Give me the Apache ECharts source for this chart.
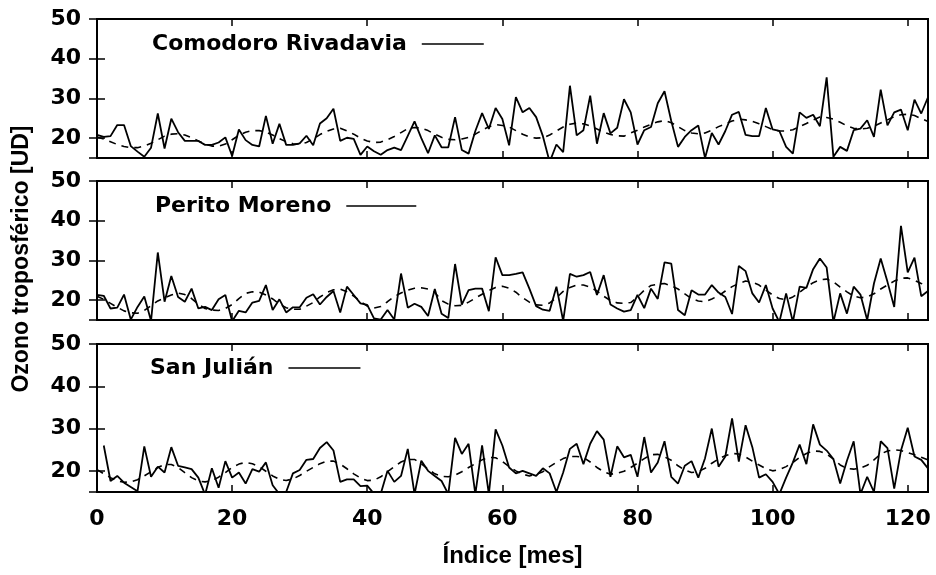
<!DOCTYPE html>
<html>
<head>
<meta charset="utf-8">
<title>Ozono troposférico</title>
<script src="https://cdn.jsdelivr.net/npm/echarts@6.0.0/dist/echarts.min.js"></script>
<style>
    html, body { margin: 0; padding: 0; background: #fff; }
    #main { width: 936px; height: 575px; }
</style>
</head>
<body>
<div id="main"></div>
<script>
// estaciones (una por panel)
var stations = ['Comodoro Rivadavia', 'Perito Moreno', 'San Julián'];

// ozono troposférico mensual [UD], índice de mes 0..123
var comodoro = [20.8, 20.3, 20.5, 23.3, 23.3, 18.0, 16.6, 15.3, 17.6, 26.2, 17.4, 24.9, 21.5, 19.3, 19.3, 19.3, 18.3, 18.3, 18.9, 20.2,
    15.5, 22.2, 19.5, 18.3, 17.9, 25.6, 18.6, 23.6, 18.3, 18.3, 18.7, 20.6, 18.2, 23.7, 25.0, 27.4, 19.3, 20.1, 19.8, 15.8,
    17.9, 16.7, 15.8, 17.0, 17.6, 17.0, 20.6, 24.2, 20.0, 16.2, 20.7, 17.7, 17.7, 25.3, 17.0, 16.1, 21.8, 26.3, 22.3, 27.6,
    24.8, 18.2, 30.3, 26.5, 27.6, 25.3, 20.5, 14.0, 18.4, 16.5, 33.2, 20.7, 22.0, 30.7, 18.6, 26.3, 21.2, 22.6, 29.8, 26.5,
    18.4, 22.0, 22.8, 28.8, 31.8, 24.3, 17.8, 20.3, 22.0, 23.2, 15.0, 21.3, 18.4, 21.8, 25.9, 26.6, 20.8, 20.5, 20.5, 27.6,
    22.2, 21.8, 17.8, 16.1, 26.5, 25.1, 25.9, 23.0, 35.3, 15.3, 17.8, 16.8, 22.0, 22.4, 24.5, 20.3, 32.2, 23.2, 26.5, 27.2,
    22.0, 29.7, 26.2, 30.3];
var comodoroFit = [20.3, 19.8, 19.1, 18.4, 17.9, 17.6, 17.6, 18.0, 18.7, 19.6, 20.5, 21.0, 21.1, 20.8, 20.1, 19.3, 18.5, 18.0, 18.0, 18.5,
    19.6, 20.7, 21.5, 21.9, 21.9, 21.5, 20.8, 19.9, 19.1, 18.6, 18.5, 18.9, 19.8, 20.9, 21.7, 22.3, 22.5, 21.8, 21.0, 20.0,
    19.3, 18.9, 19.0, 19.6, 20.4, 21.4, 22.4, 22.7, 22.5, 21.9, 21.0, 20.2, 19.7, 19.6, 19.8, 20.2, 21.0, 22.0, 22.9, 23.4,
    23.2, 22.8, 21.9, 21.0, 20.3, 20.0, 20.1, 20.8, 21.8, 22.8, 23.5, 23.8, 23.6, 23.1, 22.3, 21.5, 20.9, 20.6, 20.5, 21.3,
    22.0, 22.8, 23.5, 24.1, 24.4, 23.9, 22.9, 21.9, 21.3, 21.1, 21.3, 22.0, 22.9, 23.6, 24.3, 24.8, 24.6, 24.2, 23.6, 22.9,
    22.2, 21.8, 21.8, 22.1, 22.9, 23.7, 24.6, 25.3, 25.2, 24.8, 24.0, 23.1, 22.5, 22.3, 22.5, 23.0, 23.8, 24.6, 25.4, 25.9,
    26.0, 25.7, 24.9, 24.2];

var perito = [21.3, 21.1, 17.9, 18.1, 21.4, 15.1, 18.3, 20.9, 14.8, 32.0, 19.6, 26.1, 20.8, 19.6, 22.9, 17.9, 18.3, 17.5, 20.2, 21.3,
    14.7, 17.3, 16.9, 19.4, 19.8, 23.8, 17.5, 20.2, 16.9, 18.2, 18.2, 20.6, 21.5, 18.9, 20.8, 22.3, 16.9, 23.4, 21.3, 19.2,
    18.8, 15.4, 15.1, 17.5, 15.1, 26.7, 18.1, 19.1, 18.3, 16.0, 22.8, 16.6, 15.5, 29.1, 18.9, 22.5, 22.9, 22.9, 17.2, 30.8,
    26.3, 26.3, 26.6, 27.0, 22.9, 18.5, 17.6, 17.3, 23.4, 14.8, 26.6, 25.9, 26.3, 27.1, 21.3, 26.3, 18.9, 17.9, 17.1, 17.5,
    21.3, 18.0, 22.9, 20.3, 29.5, 29.2, 17.5, 16.2, 22.5, 21.4, 21.4, 23.8, 21.9, 20.8, 16.5, 28.6, 27.3, 21.7, 19.4, 23.8,
    17.9, 14.5, 21.7, 14.5, 23.4, 23.1, 27.8, 30.5, 28.2, 14.5, 21.7, 16.6, 23.4, 21.4, 15.0, 24.2, 30.5, 24.6, 18.3, 38.7,
    27.0, 30.7, 21.0, 22.3];
var peritoFit = [21.0, 20.2, 19.2, 18.2, 17.3, 16.8, 16.7, 17.4, 18.6, 19.8, 20.6, 21.3, 21.8, 21.4, 20.4, 19.0, 17.9, 17.5, 17.4, 17.9,
    18.9, 20.4, 21.7, 22.1, 22.0, 21.3, 20.3, 19.0, 18.1, 17.7, 17.7, 18.5, 19.4, 20.8, 21.9, 22.6, 22.8, 22.1, 21.0, 19.7,
    18.5, 18.0, 18.4, 19.6, 20.9, 21.8, 22.5, 23.0, 23.1, 22.8, 21.9, 19.9, 19.0, 18.6, 18.7, 19.5, 20.5, 21.5, 22.4, 23.2,
    23.5, 23.0, 22.0, 20.6, 19.5, 18.8, 18.7, 19.3, 20.6, 22.2, 23.2, 23.8, 23.8, 23.3, 22.3, 21.0, 19.9, 19.3, 19.2, 19.4,
    20.8, 22.5, 23.7, 24.0, 24.2, 23.6, 22.8, 21.6, 20.4, 19.8, 19.6, 20.3, 21.1, 22.3, 23.4, 24.2, 24.8, 24.5, 23.8, 22.5,
    21.3, 20.4, 20.1, 20.8, 22.0, 23.3, 24.4, 25.1, 25.3, 24.6, 23.3, 22.1, 21.0, 20.6, 20.8, 21.6, 22.8, 23.8, 24.8, 25.5,
    25.6, 25.0, 24.2, 23.6];

var sanJulian = [null, 26.0, 17.6, 18.8, 17.2, 16.2, 15.2, 25.8, 18.6, 21.0, 19.6, 25.6, 21.2, 20.8, 20.4, 18.4, 14.4, 20.6, 16.0, 22.3,
    18.4, 19.6, 17.0, 20.4, 19.8, 22.0, 16.6, 14.5, 15.0, 19.4, 20.2, 22.6, 22.8, 25.4, 26.8, 24.8, 17.4, 18.0, 18.0, 16.4,
    16.5, 14.6, 14.6, 20.0, 17.4, 18.8, 25.2, 14.5, 22.4, 20.0, 18.8, 17.6, 14.5, 27.8, 24.0, 26.4, 14.5, 26.0, 14.5, 29.8,
    26.0, 20.8, 19.4, 20.0, 19.4, 18.8, 20.6, 19.4, 15.0, 19.6, 25.2, 26.4, 21.6, 26.4, 29.4, 27.4, 18.6, 25.8, 23.2, 23.8,
    18.6, 28.0, 19.6, 22.0, 27.0, 18.6, 17.0, 21.2, 22.3, 18.4, 23.0, 30.0, 21.0, 23.4, 32.4, 22.2, 30.8, 25.6, 18.4, 19.2,
    17.4, 14.5, 18.4, 22.0, 26.2, 21.6, 31.0, 26.2, 24.8, 22.8, 17.0, 22.4, 27.0, 14.5, 18.6, 15.0, 27.0, 25.4, 15.8, 24.8,
    30.2, 23.4, 22.6, 20.6];
var sanJulianFit = [20.3, 19.3, 18.4, 17.6, 17.3, 17.4, 17.9, 18.8, 19.8, 20.8, 21.5, 21.5, 20.8, 19.6, 18.4, 17.6, 17.4, 17.7, 18.5, 19.6,
    20.8, 21.6, 22.0, 21.7, 21.0, 19.9, 18.8, 18.0, 17.7, 18.1, 18.9, 19.9, 20.8, 21.7, 22.3, 22.3, 21.6, 20.5, 19.3, 18.3,
    17.7, 17.8, 18.6, 19.8, 21.0, 22.1, 22.7, 22.7, 21.7, 20.4, 19.3, 18.7, 18.6, 19.0, 19.8, 20.8, 21.7, 22.6, 23.2, 23.1,
    22.2, 21.0, 20.0, 19.2, 18.8, 19.2, 19.8, 21.0, 22.0, 22.9, 23.4, 23.4, 23.2, 22.1, 20.8, 19.8, 19.2, 19.4, 19.9, 20.8,
    21.8, 22.9, 23.8, 23.9, 23.3, 22.5, 21.2, 20.2, 19.6, 19.8, 20.6, 21.8, 22.8, 23.6, 24.1, 24.0, 23.3, 22.3, 21.4, 20.5,
    20.0, 20.3, 21.0, 22.0, 23.2, 24.1, 24.7, 24.6, 24.0, 22.8, 21.4, 20.6, 20.4, 20.7, 21.3, 22.6, 24.0, 24.7, 25.0, 24.8,
    24.3, 23.8, 23.2, 22.6];

var measured = [comodoro, perito, sanJulian];
var fitted = [comodoroFit, peritoFit, sanJulianFit];

// disposición de los paneles
var panels = [
    { top: 19, height: 139 },
    { top: 181, height: 139 },
    { top: 344, height: 148 }
];
var keyLeft = [152, 155, 150];
var keyCenter = [44, 206, 368];
var keyLine = [62, 70, 72];

var tickFont = { fontFamily: 'DejaVu Sans', fontWeight: 'bold', fontSize: 22, color: '#000' };

var myChart = echarts.init(document.getElementById('main'), null, { renderer: 'canvas' });

function pairs(arr) {
    return arr.map(function (v, i) { return [i, v]; });
}

var grid = [], xAxis = [], yAxis = [], series = [], legend = [];

panels.forEach(function (p, k) {
    grid.push({
        left: 97, top: p.top, width: 831, height: p.height,
        show: true, borderColor: '#000', borderWidth: 2, backgroundColor: 'transparent'
    });
    ['bottom', 'top'].forEach(function (pos) {
        xAxis.push({
            type: 'value', gridIndex: k, position: pos, min: 0, max: 123, interval: 20,
            axisLine: { show: false }, splitLine: { show: false },
            axisTick: { show: true, inside: true, length: 7, lineStyle: { color: '#000', width: 1.5 } },
            axisLabel: { show: k === 2 && pos === 'bottom', showMaxLabel: false, margin: 16, textStyle: tickFont },
            name: (k === 2 && pos === 'bottom') ? 'Índice [mes]' : '',
            nameLocation: 'middle', nameGap: 52,
            nameTextStyle: { fontFamily: 'Liberation Sans', fontWeight: 'bold', fontSize: 24, color: '#000' }
        });
    });
    ['left', 'right'].forEach(function (pos) {
        yAxis.push({
            type: 'value', gridIndex: k, position: pos, min: 15, max: 50, splitNumber: 4,
            axisLine: { show: false }, splitLine: { show: false },
            axisTick: { show: true, inside: true, length: 8, lineStyle: { color: '#000', width: 1.5 } },
            axisLabel: { show: pos === 'left', showMinLabel: false, margin: 16, textStyle: tickFont }
        });
    });
    series.push({
        name: stations[k], type: 'line', xAxisIndex: k * 2, yAxisIndex: k * 2,
        data: pairs(measured[k]), showSymbol: false, symbol: 'none', clip: true, z: 3,
        lineStyle: { color: '#000', width: 1.8 }, itemStyle: { color: '#000' }
    });
    series.push({
        name: stations[k] + ' ajuste', type: 'line', xAxisIndex: k * 2, yAxisIndex: k * 2,
        data: pairs(fitted[k]), showSymbol: false, symbol: 'none', clip: true, z: 2,
        lineStyle: { color: '#000', width: 1.6, type: [7, 6] }, itemStyle: { color: '#000' }
    });
    legend.push({
        data: [{ name: stations[k], icon: 'rect' }],
        left: keyLeft[k], top: keyCenter[k] - 11, padding: 0, align: 'right',
        itemWidth: keyLine[k], itemHeight: 1.6, selectedMode: false,
        textStyle: { fontFamily: 'DejaVu Sans', fontWeight: 'bold', fontSize: 22, color: '#000', padding: [0, 10, 0, 0] }
    });
});

var option = {
    backgroundColor: '#fff',
    animation: false,
    grid: grid,
    xAxis: xAxis,
    yAxis: yAxis,
    legend: legend,
    series: series,
    graphic: [{
        type: 'text', x: 22, y: 259, rotation: Math.PI / 2,
        style: {
            text: 'Ozono troposférico [UD]', fill: '#000',
            font: 'bold 23px "Liberation Sans"', align: 'center', verticalAlign: 'middle'
        }
    }]
};
myChart.setOption(option);
</script>
</body>
</html>
